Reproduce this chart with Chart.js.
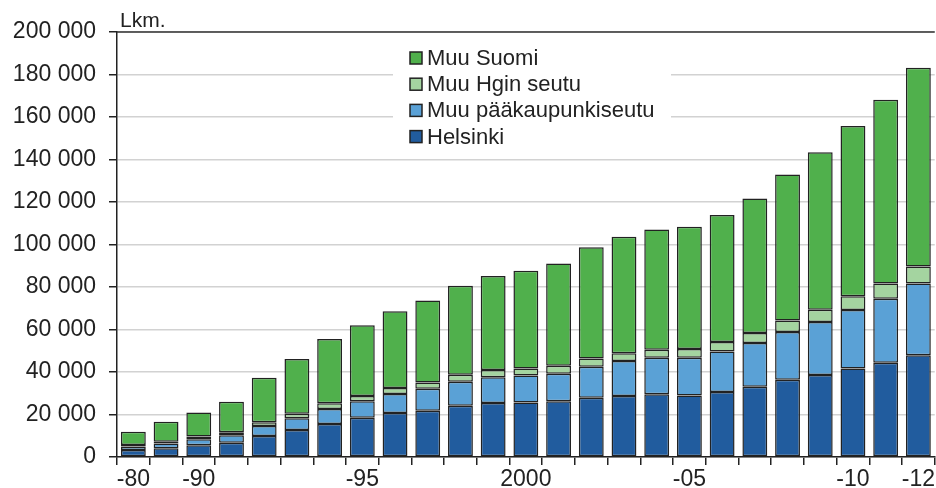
<!DOCTYPE html>
<html>
<head>
<meta charset="utf-8">
<script src="https://cdn.jsdelivr.net/npm/chart.js@4"></script>
<style>
  html, body { margin:0; padding:0; background:#fff; }
  #wrap { position:relative; width:936px; height:488px; }
</style>
</head>
<body>
<div id="wrap"><canvas id="c" width="936" height="488"></canvas></div>
<script>
// Stacked bars, Lkm. by region, 1980–2012
const years = ["1980","1985","1990","1991","1992","1993","1994","1995","1996","1997","1998","1999",
  "2000","2001","2002","2003","2004","2005","2006","2007","2008","2009","2010","2011","2012"];
const yearTicks = ["-80","","-90","","","","","-95","","","","","2000","","","","","-05","","","","","-10","","-12"];

const helsinki  = [3300,4100,5500,6700,9900,12700,15500,18500,20700,21800,24100,25400,25700,26200,27900,28700,29500,29000,30600,33100,36400,38600,41600,44400,47900];
const muuPk     = [1600,2300,2800,3500,4700,5500,7100,7700,8900,10300,11300,12100,12600,13000,14600,16500,17200,17700,19100,20500,22400,24900,27600,30100,33700];
const muuHgin   = [700,800,1300,1400,1700,2200,2700,2500,2900,3000,3300,3400,3400,3800,3800,3600,3800,4100,4400,4800,5400,5800,6400,7100,8000];
const muuSuomi  = [6300,9400,11300,14400,21000,25700,30200,33300,36100,38600,41900,44300,46000,48100,52400,54900,56600,57600,59800,63300,68800,74100,80200,86500,93600];

const yTicks = [0,20000,40000,60000,80000,100000,120000,140000,160000,180000,200000];

const DARK = "#222", GRID = "#d2d2d2";
const FONT = "'Liberation Sans', Arial, sans-serif";
Chart.defaults.font.family = FONT;
Chart.defaults.color = DARK;

function ds(label, data, color){
  return {label, data, backgroundColor:color, borderColor:DARK, borderWidth:1.5, borderSkipped:false,
    barPercentage:0.76, categoryPercentage:1};
}

const fmt = v => String(v).replace(/\B(?=(\d{3})+(?!\d))/g, " ");

// legend drawn inside plot, white box over the grid
const legendBox = {
  id:"legendBox",
  afterDraw(chart){
    const ctx = chart.ctx, a = chart.chartArea;
    ctx.save();
    // top frame
    ctx.strokeStyle = "#333"; ctx.lineWidth = 1.5;
    ctx.beginPath(); ctx.moveTo(a.left, a.top); ctx.lineTo(a.right, a.top); ctx.stroke();
    // Lkm.
    ctx.fillStyle = DARK; ctx.font = "21px " + FONT; ctx.textBaseline = "alphabetic";
    ctx.fillText("Lkm.", 120, 27);
    // legend
    ctx.fillStyle = "#fff";
    ctx.fillRect(393, 34, 278, 122);
    const items = chart.data.datasets.slice().reverse();
    ctx.font = "22px " + FONT; ctx.textBaseline = "middle";
    items.forEach((d, i) => {
      const y = 58 + i * 26.2;
      ctx.fillStyle = d.backgroundColor; ctx.fillRect(410, y - 6, 12, 12);
      ctx.strokeStyle = DARK; ctx.lineWidth = 1.5; ctx.strokeRect(410, y - 6, 12, 12);
      ctx.fillStyle = DARK; ctx.fillText(d.label, 427, y + 1);
    });
    ctx.restore();
  }
};

new Chart(document.getElementById("c"), {
  type:"bar",
  data:{labels:years, datasets:[
    ds("Helsinki", helsinki, "#215c9e"),
    ds("Muu pääkaupunkiseutu", muuPk, "#5aa1d6"),
    ds("Muu Hgin seutu", muuHgin, "#a4d4a0"),
    ds("Muu Suomi", muuSuomi, "#50b04c")
  ]},
  options:{
    responsive:false, animation:false,
    layout:{padding:{top:32, right:0, left:0, bottom:0}},
    plugins:{legend:{display:false}, tooltip:{enabled:false}},
    scales:{
      x:{stacked:true,
        grid:{display:true, drawOnChartArea:false, offset:true, tickLength:8, tickColor:DARK, lineWidth:1.5},
        border:{color:DARK, width:1.5},
        ticks:{autoSkip:false, maxRotation:0, padding:1, font:{size:23},
          callback:(v, i) => yearTicks[i]},
        afterFit:s => { s.height = 31; }
      },
      y:{stacked:true, min:0, max:200000,
        afterBuildTicks:s => { s.ticks = yTicks.map(v => ({value:v})); },
        grid:{color:GRID, lineWidth:1.5, tickLength:8, tickColor:DARK},
        border:{color:DARK, width:1.5},
        ticks:{padding:13, font:{size:23}, callback:v => fmt(v)},
        afterFit:s => { s.width = 117; }
      }
    }
  },
  plugins:[legendBox]
});
</script>
</body>
</html>
